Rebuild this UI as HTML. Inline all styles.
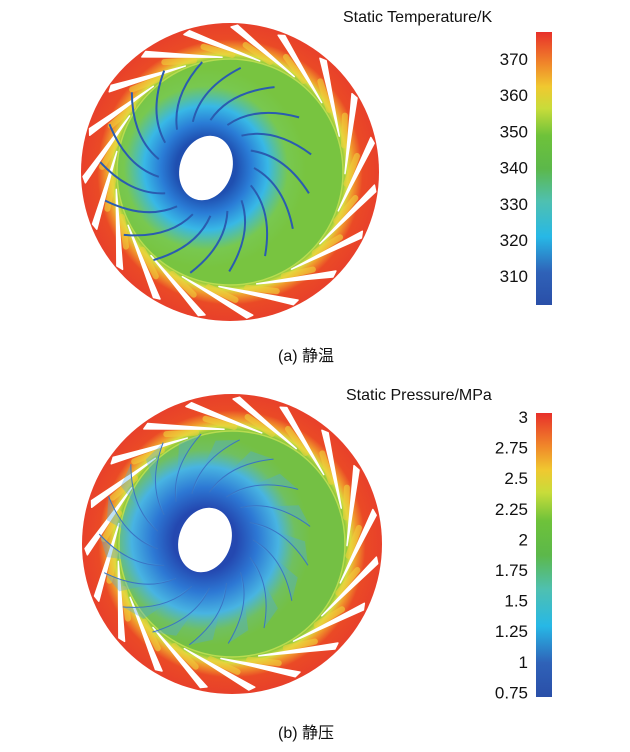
<!DOCTYPE html>
<html><head><meta charset="utf-8"><style>
body{margin:0;background:#fff;width:630px;height:747px;overflow:hidden;font-family:"Liberation Sans","Noto Sans CJK SC",sans-serif}
svg text{font-family:"Liberation Sans","Noto Sans CJK SC",sans-serif;fill:#111}
</style></head><body>
<svg id="s" width="630" height="747" viewBox="0 0 630 747" xmlns="http://www.w3.org/2000/svg">
<defs>
<linearGradient id="cb" x1="0" y1="1" x2="0" y2="0">
<stop offset="0" stop-color="#2a4fa8"/><stop offset="0.12" stop-color="#2f62b8"/>
<stop offset="0.25" stop-color="#27b8e6"/><stop offset="0.38" stop-color="#4fc0b0"/>
<stop offset="0.5" stop-color="#5cb84a"/><stop offset="0.62" stop-color="#6ec23a"/>
<stop offset="0.72" stop-color="#c8dc3a"/><stop offset="0.8" stop-color="#f0c830"/>
<stop offset="0.88" stop-color="#f08a2a"/><stop offset="1" stop-color="#e8302a"/>
</linearGradient>
<radialGradient id="ring" cx="0.5" cy="0.5" r="0.5">
<stop offset="0.76" stop-color="#8cc83c"/><stop offset="0.79" stop-color="#d8dc40"/>
<stop offset="0.83" stop-color="#f09a2c"/><stop offset="0.89" stop-color="#ea4a26"/>
<stop offset="1" stop-color="#e8402a"/></radialGradient>
<radialGradient id="in1" gradientUnits="userSpaceOnUse" cx="206" cy="168" r="100">
<stop offset="0.3" stop-color="#1f4fb0"/><stop offset="0.45" stop-color="#2a7cd6"/>
<stop offset="0.62" stop-color="#38b8e6"/><stop offset="0.82" stop-color="#78c850"/>
<stop offset="1" stop-color="#78c440"/></radialGradient>
<radialGradient id="in2" gradientUnits="userSpaceOnUse" cx="205" cy="540" r="105">
<stop offset="0.3" stop-color="#2448b0"/><stop offset="0.5" stop-color="#2d78d4"/>
<stop offset="0.7" stop-color="#48b4e2"/><stop offset="0.86" stop-color="#70c060"/>
<stop offset="1" stop-color="#74c044"/></radialGradient>
</defs>
<g id="g"></g>
<rect x="536" y="32" width="16" height="273" fill="url(#cb)"/>
<rect x="536" y="413" width="16" height="284" fill="url(#cb)"/>
<text x="343" y="22" font-size="16">Static Temperature/K</text>
<text x="346" y="400" font-size="16">Static Pressure/MPa</text>
<g font-size="17" text-anchor="end" id="t1"></g>
<g font-size="17" text-anchor="end" id="t2"></g>
<text x="278" y="361" font-size="16">(a) 静温</text>
<text x="278" y="738" font-size="16">(b) 静压</text>
</svg>
<script>
var g=document.getElementById('g'),h='';
function P(cx,cy,r,a){a=a*Math.PI/180;return [cx+r*Math.cos(a),cy+r*Math.sin(a)];}
function wheel(cx,cy,R,hx,hy,fill,type){
 h+='<circle cx="'+cx+'" cy="'+cy+'" r="'+R+'" fill="url(#ring)"/>';
 h+='<circle cx="'+cx+'" cy="'+cy+'" r="113" fill="url(#'+fill+')"/>';
 h+='<circle cx="'+cx+'" cy="'+cy+'" r="113" fill="none" stroke="#b8dc50" stroke-width="1.5"/>';
 for(var i=0;i<19;i++){var a=i*360/19-75;
  var p1=P(cx,cy,115,a),p2=P(cx,cy,147,a-31),p3=P(cx,cy,145,a-33.5);
  var y1=P(cx,cy,117,a+5),y2=P(cx,cy,128,a-8);
  h+='<path d="M'+y1+' L'+y2+'" stroke="#f0d23c" stroke-width="6" opacity="0.6" stroke-linecap="round"/>';
  h+='<path d="M'+p1+' L'+p2+' L'+p3+'Z" fill="#fff" stroke="#fff" stroke-width="1.5" stroke-linejoin="round"/>';}
 for(var i=0;i<17;i++){var a=i*360/17;
  var q1=P(hx,hy,48,a),q2=P(hx,hy,80,a+12),q3=P(hx,hy,106,a+35);
  if(type==1) h+='<path d="M'+q1+' Q'+q2+' '+q3+'" fill="none" stroke="#2a5cb0" stroke-width="2"/>';
  else {var q4=P(hx,hy,100,a+22);h+='<path d="M'+q1+' Q'+q2+' '+q3+' L'+q4+'Z" fill="#4aa8e6" opacity="0.35"/>';
   h+='<path d="M'+q1+' Q'+q2+' '+q3+'" fill="none" stroke="#3a74c4" stroke-width="1"/>';}
 }
 h+='<ellipse cx="'+hx+'" cy="'+hy+'" rx="26" ry="33" transform="rotate(20 '+hx+' '+hy+')" fill="#fff"/>';
}
wheel(230,172,149,206,168,'in1',1);
wheel(232,544,150,205,540,'in2',2);
g.innerHTML=h;
var t='';[370,360,350,340,330,320,310].forEach(function(v,i){var y=59+i*36.2;t+='<text x="528" y="'+(y+6)+'">'+v+'</text>';});
document.getElementById('t1').innerHTML=t;
t='';['3','2.75','2.5','2.25','2','1.75','1.5','1.25','1','0.75'].forEach(function(v,i){var y=417+i*30.6;t+='<text x="528" y="'+(y+6)+'">'+v+'</text>';});
document.getElementById('t2').innerHTML=t;
</script>
</body></html>
